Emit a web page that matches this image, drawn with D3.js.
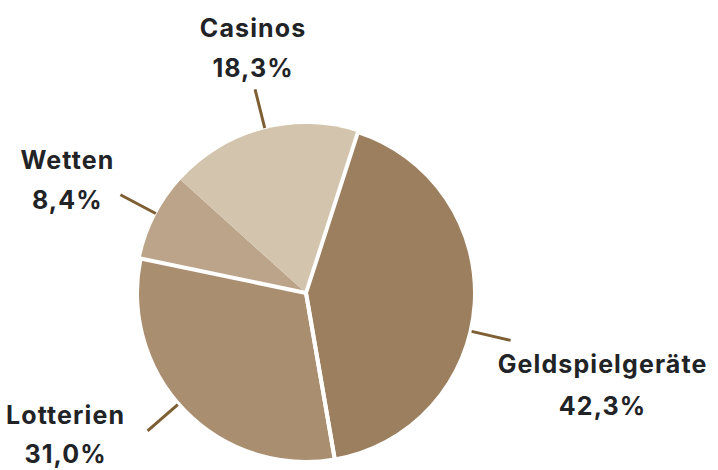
<!DOCTYPE html>
<html>
<head>
<meta charset="utf-8">
<script src="https://cdn.jsdelivr.net/npm/d3@7"></script>
<style>
  html, body { margin: 0; padding: 0; background: #ffffff; }
  svg { display: block; }
  text { font-family: Inter, "Noto Sans", sans-serif; font-weight: 700; fill: #212326; }
</style>
</head>
<body>
<svg id="chart" width="718" height="470"></svg>
<script>
// Data
const categories = ["Geldspielgeräte", "Lotterien", "Wetten", "Casinos"];
const values = [42.3, 31.0, 8.4, 18.3];
const valueLabels = ["42,3%", "31,0%", "8,4%", "18,3%"];

// Style / layout (not data)
const colors = ["#9c7f5f", "#aa8e70", "#bba489", "#d3c4ad"];
const whiteEdge = [true, true, false, false];
const cx = 306, cy = 293, radius = 169;
const startDeg = 17.9;
// label layout nudges: line angle shift (deg), label block offset from line end
const labelLayout = [
  { shift: 9,  dx: 92,  dy: 33, gap: 42 },
  { shift: 3,  dx: -82, dy: -7, gap: 39 },
  { shift: 1,  dx: -53, dy: -26, gap: 40 },
  { shift: 1,  dx: -2,  dy: -52, gap: 40 }
];

const svg = d3.select("#chart");
const g = svg.append("g").attr("transform", `translate(${cx},${cy})`);

const pie = d3.pie().sort(null).value(d => d)
  .startAngle(startDeg * Math.PI / 180)
  .endAngle(startDeg * Math.PI / 180 + 2 * Math.PI);
const arcs = pie(values);
const arc = d3.arc().innerRadius(0).outerRadius(radius);

g.selectAll("path.slice").data(arcs).enter().append("path")
  .attr("class", "slice")
  .attr("d", arc)
  .attr("fill", (d, i) => colors[i]);

// white separators on top for selected slices
g.selectAll("path.edge").data(arcs.filter((d, i) => whiteEdge[i])).enter().append("path")
  .attr("class", "edge")
  .attr("d", arc)
  .attr("fill", "none")
  .attr("stroke", "#ffffff")
  .attr("stroke-width", 4)
  .attr("stroke-linejoin", "round");

// Leader lines + labels
arcs.forEach((d, i) => {
  const a = (d.startAngle + d.endAngle) / 2 + labelLayout[i].shift * Math.PI / 180;
  const p = (r) => [r * Math.sin(a), -r * Math.cos(a)];
  const [x1, y1] = p(radius + 1);
  const [x2, y2] = p(radius + 41);
  g.append("line")
    .attr("x1", x1).attr("y1", y1).attr("x2", x2).attr("y2", y2)
    .attr("stroke", "#7e5e33").attr("stroke-width", 3);
  const lx = x2 + labelLayout[i].dx;
  const ly = y2 + labelLayout[i].dy;
  const t = g.append("text").attr("text-anchor", "middle")
    .attr("font-size", 25).attr("letter-spacing", 1.1);
  t.append("tspan").attr("x", lx).attr("y", ly).text(categories[i]);
  t.append("tspan").attr("x", lx).attr("y", ly + labelLayout[i].gap).text(valueLabels[i]);
});
</script>
</body>
</html>
